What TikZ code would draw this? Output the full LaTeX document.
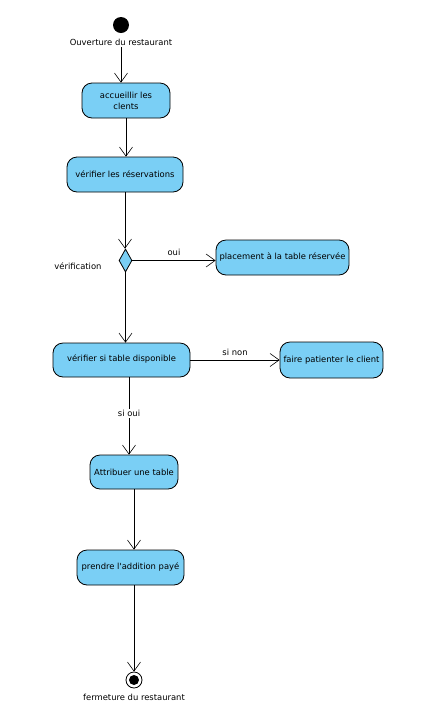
\documentclass[tikz,border=0pt]{standalone}
\usepackage{fontspec}
\setmainfont{DejaVu Sans}
\usetikzlibrary{arrows.meta,shapes.geometric}
\definecolor{actfill}{RGB}{122,207,245}
\begin{document}
\begin{tikzpicture}[x=1pt,y=-1pt,
  font=\fontsize{8.4}{10}\selectfont,
  action/.style={draw=black, line width=0.8pt, fill=actfill, rounded corners=10pt,
    inner sep=0pt, align=center},
  flow/.style={draw=black, line width=0.6pt, -{Straight Barb[length=9pt,width=13pt,line width=0.6pt]}},
  lbl/.style={inner sep=0pt}]
\useasboundingbox (0,0) rectangle (421,716);

% initial state
\node[circle, fill=black, minimum size=16pt, inner sep=0pt] (start) at (121,25) {};
\node[lbl] (startlbl) at (121,42) {Ouverture du restaurant};

% actions
\node[action, minimum width=88pt, minimum height=35pt] (acc) at (126,100.5) {accueillir les\\[1pt]clents};
\node[action, minimum width=116pt, minimum height=35pt] (ver) at (125,174.5) {vérifier les réservations};
\node[draw=black, line width=0.8pt, fill=actfill, diamond, inner sep=0pt,
  minimum width=13pt, minimum height=23pt] (dia) at (125.5,260.5) {};
\node[lbl] (dialbl) at (78,266) {vérification};
\node[action, minimum width=133pt, minimum height=35pt] (place) at (282.5,257.5) {placement à la table réservée};
\node[action, minimum width=137pt, minimum height=34pt] (dispo) at (121.5,360) {\raisebox{4pt}{vérifier si table disponible}};
\node[action, minimum width=103pt, minimum height=36pt] (wait) at (331.5,360) {faire patienter le client};
\node[action, minimum width=88pt, minimum height=34pt] (attr) at (134,472) {Attribuer une table};
\node[action, minimum width=107pt, minimum height=35pt] (pay) at (130.5,567.5) {prendre l\textquotesingle addition payé};

% final state
\node[circle, draw=black, line width=0.8pt, fill=white, minimum size=16pt, inner sep=0pt] (stop) at (134,680) {};
\node[circle, fill=black, minimum size=10pt, inner sep=0pt] at (stop) {};
\node[lbl] (stoplbl) at (134,697) {fermeture du restaurant};

% transitions
\draw[flow] (startlbl.south -| start) ++(0,2) -- (acc.north -| start);
\draw[flow] (acc.south) -- (ver.north -| acc.south);
\draw[flow] (ver.south) -- (dia.north -| ver.south);
\draw[flow] (dia.east) -- node[lbl, above=5pt] (oui) {oui} (place.west |- dia.east);
\draw[flow] (dia.south) -- (dispo.north -| dia.south);
\draw[flow] (dispo.east |- wait.west) -- node[lbl, above=4pt] (sinon) {si non} (wait.west);
\draw[flow] (dispo.south -| 129,0) -- node[lbl, pos=0.47, fill=white, inner sep=1pt] (sioui) {si oui} (attr.north -| 129,0);
\draw[flow] (attr.south) -- (pay.north -| attr.south);
\draw[flow] (pay.south -| stop) -- (stop.north);
\end{tikzpicture}
\end{document}
